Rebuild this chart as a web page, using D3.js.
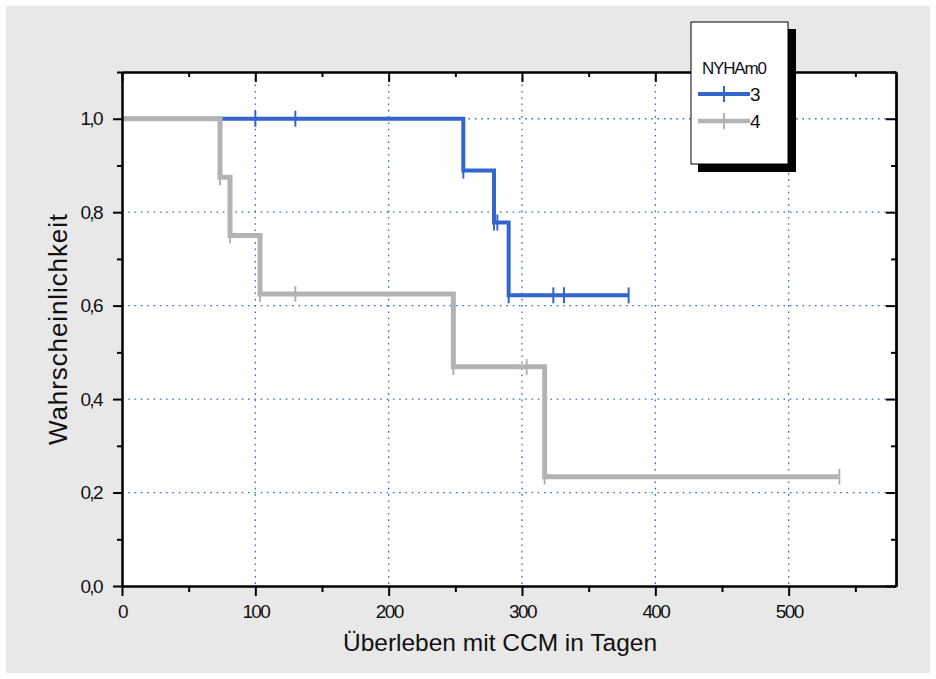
<!DOCTYPE html>
<html>
<head>
<meta charset="utf-8">
<script src="https://cdn.jsdelivr.net/npm/d3@7"></script>
<style>
body { margin: 0; background: #fff; }
svg text { font-family: "Liberation Sans", Arial, sans-serif; fill: #111; }
</style>
</head>
<body>
<svg id="chart" width="936" height="679"></svg>
<script>
// Kaplan-Meier data
var groupNames = ["3", "4"];
var legendTitle = "NYHAm0";

// NYHA 3 (blue)
var blueTimes = [0, 256, 279, 290];
var blueSurv = [1.0, 0.889, 0.778, 0.622];
var blueEnd = 380;
var blueCensor = [100, 130, 256, 279, 281.5, 290, 323.5, 331.5, 380];

// NYHA 4 (gray)
var grayTimes = [0, 73.5, 81, 103.5, 248.5, 317];
var graySurv = [1.0, 0.875, 0.75, 0.625, 0.469, 0.234];
var grayEnd = 538;
var grayCensor = [73.5, 81, 103.5, 130, 248.5, 303.5, 317, 538];

var xMajor = [0, 100, 200, 300, 400, 500];
var xMinor = [50, 150, 250, 350, 450, 550];
var yMajor = [0, 0.2, 0.4, 0.6, 0.8, 1.0];
var yMinor = [0.1, 0.3, 0.5, 0.7, 0.9, 1.1];

var blue = "#3366cc";
var gray = "#b3b3b3";

var svg = d3.select("#chart");
var pLeft = 122, pRight = 896, pTop = 72, pBottom = 586;

var x = d3.scaleLinear().domain([0, 580.5]).range([pLeft, pRight]);
var y = d3.scaleLinear().domain([0, 1.1]).range([pBottom, pTop]);

var de = d3.formatLocale({decimal: ",", thousands: ".", grouping: [3], currency: ["", " €"]});
var fmt = de.format(".1f");

// background panel
svg.append("rect").attr("x", 6).attr("y", 6).attr("width", 924).attr("height", 667)
    .attr("fill", "#e8e8e8");
svg.append("rect").attr("x", pLeft).attr("y", pTop).attr("width", pRight - pLeft).attr("height", pBottom - pTop)
    .attr("fill", "#fff");

// dotted grid
var grid = svg.append("g").attr("stroke", "#3a6ad0").attr("stroke-width", 1.3)
    .attr("stroke-dasharray", "1.6,4.7");
grid.selectAll(".gx").data(xMajor.slice(1)).enter().append("line")
    .attr("x1", function (d) { return x(d); }).attr("x2", function (d) { return x(d); })
    .attr("y1", pTop).attr("y2", pBottom);
grid.selectAll(".gy").data(yMajor.slice(1)).enter().append("line")
    .attr("x1", pLeft).attr("x2", pRight)
    .attr("y1", function (d) { return y(d); }).attr("y2", function (d) { return y(d); });

// step path from times / survival
function stepPoints(times, surv, end) {
    var pts = [];
    times.forEach(function (t, i) {
        pts.push([t, surv[i]]);
        var next = i < times.length - 1 ? times[i + 1] : end;
        pts.push([next, surv[i]]);
    });
    return pts;
}
function survAt(times, surv, t) {
    var v = surv[0];
    times.forEach(function (tt, i) { if (tt <= t) { v = surv[i]; } });
    return v;
}

var line = d3.line()
    .x(function (d) { return x(d[0]); })
    .y(function (d) { return y(d[1]); });

function drawCurve(times, surv, end, censor, color, width) {
    var g = svg.append("g");
    g.append("path")
        .attr("d", line(stepPoints(times, surv, end)))
        .attr("fill", "none").attr("stroke", color).attr("stroke-width", width)
        .attr("stroke-linejoin", "miter");
    g.selectAll("line").data(censor).enter().append("line")
        .attr("x1", function (d) { return x(d); }).attr("x2", function (d) { return x(d); })
        .attr("y1", function (d) { return y(survAt(times, surv, d)) - 8; })
        .attr("y2", function (d) { return y(survAt(times, surv, d)) + 8; })
        .attr("stroke", color).attr("stroke-width", 2);
}
drawCurve(blueTimes, blueSurv, blueEnd, blueCensor, blue, 4);
drawCurve(grayTimes, graySurv, grayEnd, grayCensor, gray, 5);

// axes
function styleAxis(g) {
    g.selectAll("path").attr("stroke", "#000").attr("stroke-width", 2);
    g.selectAll("line").attr("stroke", "#000").attr("stroke-width", 2);
    g.selectAll("text").attr("font-size", 19).attr("letter-spacing", -1.6).attr("fill", "#111")
        .attr("font-family", "Liberation Sans, Arial, sans-serif");
}
var xAx = svg.append("g").attr("transform", "translate(0," + pBottom + ")")
    .call(d3.axisBottom(x).tickValues(xMajor).tickSize(10).tickPadding(9).tickSizeOuter(0)
        .tickFormat(d3.format("d")));
styleAxis(xAx);
var xAxMin = svg.append("g").attr("transform", "translate(0," + pBottom + ")")
    .call(d3.axisBottom(x).tickValues(xMinor).tickSize(6).tickFormat("").tickSizeOuter(0));
styleAxis(xAxMin);

var yAx = svg.append("g").attr("transform", "translate(" + pLeft + ",0)")
    .call(d3.axisLeft(y).tickValues(yMajor).tickSize(9).tickPadding(11).tickSizeOuter(0)
        .tickFormat(fmt));
styleAxis(yAx);
var yAxMin = svg.append("g").attr("transform", "translate(" + pLeft + ",0)")
    .call(d3.axisLeft(y).tickValues(yMinor).tickSize(5).tickFormat("").tickSizeOuter(0));
styleAxis(yAxMin);

// mirrored frame with inward ticks
var topAx = svg.append("g").attr("transform", "translate(0," + pTop + ")")
    .call(d3.axisTop(x).tickValues(xMajor).tickSize(-10).tickFormat("").tickSizeOuter(0));
styleAxis(topAx);
var topAxMin = svg.append("g").attr("transform", "translate(0," + pTop + ")")
    .call(d3.axisTop(x).tickValues(xMinor).tickSize(-5).tickFormat("").tickSizeOuter(0));
styleAxis(topAxMin);
var rightAx = svg.append("g").attr("transform", "translate(" + pRight + ",0)")
    .call(d3.axisRight(y).tickValues(yMajor).tickSize(-10).tickFormat("").tickSizeOuter(0));
styleAxis(rightAx);
var rightAxMin = svg.append("g").attr("transform", "translate(" + pRight + ",0)")
    .call(d3.axisRight(y).tickValues(yMinor).tickSize(-5).tickFormat("").tickSizeOuter(0));
styleAxis(rightAxMin);
rightAx.select("path").attr("stroke-width", 2.5);

// axis titles
svg.append("text").attr("x", 500).attr("y", 651).attr("text-anchor", "middle")
    .attr("font-size", 24.5).attr("letter-spacing", 0)
    .text("Überleben mit CCM in Tagen");
svg.append("text").attr("transform", "translate(67,329) rotate(-90)").attr("text-anchor", "middle")
    .attr("font-size", 26).attr("letter-spacing", 0.9)
    .text("Wahrscheinlichkeit");

// legend
var lg = svg.append("g");
lg.append("rect").attr("x", 698).attr("y", 29).attr("width", 98).attr("height", 143).attr("fill", "#000");
lg.append("rect").attr("x", 691).attr("y", 22).attr("width", 97).attr("height", 142)
    .attr("fill", "#fff").attr("stroke", "#000").attr("stroke-width", 1);
lg.append("text").attr("x", 702).attr("y", 74).attr("font-size", 17).attr("letter-spacing", -1.2)
    .text(legendTitle);
var items = lg.selectAll(".item").data(groupNames).enter().append("g")
    .attr("transform", function (d, i) { return "translate(0," + (94 + i * 27) + ")"; });
items.append("line").attr("x1", 698).attr("x2", 750).attr("y1", 0).attr("y2", 0)
    .attr("stroke", function (d, i) { return i === 0 ? blue : gray; })
    .attr("stroke-width", function (d, i) { return i === 0 ? 4 : 4.5; });
items.append("line").attr("x1", 724).attr("x2", 724).attr("y1", -8).attr("y2", 8)
    .attr("stroke", function (d, i) { return i === 0 ? blue : gray; }).attr("stroke-width", 2);
items.append("text").attr("x", 750).attr("y", 7).attr("font-size", 19).text(function (d) { return d; });
</script>
</body>
</html>
